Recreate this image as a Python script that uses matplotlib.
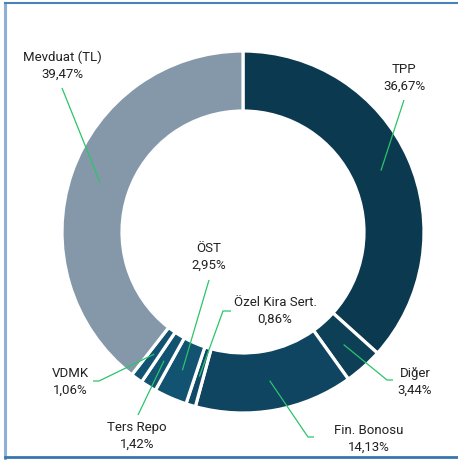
import numpy as np
import matplotlib
matplotlib.use('Agg')
import matplotlib.pyplot as plt
from matplotlib.lines import Line2D

# donut data, clockwise from 12 o'clock
labels = ['TPP', 'Diğer', 'Fin. Bonosu', 'Özel Kira Sert.', 'ÖST', 'Ters Repo', 'VDMK', 'Mevduat (TL)']
values = [36.67, 3.44, 14.13, 0.86, 2.95, 1.42, 1.06, 39.47]
colors = ['#0b3a50', '#0d3f57', '#0f4561', '#104a67', '#115371', '#115371', '#115371', '#8598aa']

# label text centres (pixels, y down) and optional elbow point of leader
label_pos = {
    'TPP': (404, 78, None, (404, 100)),
    'Diğer': (415, 382, (393, 380), (387, 380)),
    'Fin. Bonosu': (369, 439, (314, 437), (308, 437)),
    'Özel Kira Sert.': (275, 311, (231, 311), (223, 311)),
    'ÖST': (209, 257, None, (209, 280)),
    'Ters Repo': (137, 436, None, (138, 415)),
    'VDMK': (70, 382, (93, 381), (99, 381)),
    'Mevduat (TL)': (62, 66, None, (62, 88)),
}

W, H = 458, 462
fig = plt.figure(figsize=(W / 100, H / 100), dpi=100)
ax = fig.add_axes([0, 0, 1, 1])
ax.set_xlim(0, W)
ax.set_ylim(0, H)
ax.set_aspect('equal')
ax.axis('off')

cx, cy, R = 243, H - 232, 181
ring = 60
ax.pie(values, colors=colors, startangle=90, counterclock=False, radius=R, center=(cx, cy),
       wedgeprops=dict(width=ring, edgecolor='white', linewidth=2.3))
ax.set_xlim(0, W)
ax.set_ylim(0, H)

font = ['Roboto', 'DejaVu Sans']
green = '#2bc46a'
cum = np.cumsum([0] + values)
for i, lab in enumerate(labels):
    mid = (cum[i] + cum[i + 1]) / 2 / 100 * 2 * np.pi
    r = R - ring / 2
    px, py = cx + r * np.sin(mid), cy + r * np.cos(mid)
    tx, ty, elbow, end = label_pos[lab]
    xs = []
    ys = []
    if elbow is not None:
        xs.append(elbow[0]); ys.append(H - elbow[1])
    xs += [end[0], px]
    ys += [H - end[1], py]
    ax.plot(xs, ys, color=green, lw=0.9, solid_capstyle='butt')
    txt = lab + '\n' + ('%.2f' % values[i]).replace('.', ',') + '%'
    ax.text(tx, H - ty, txt, ha='center', va='center', fontsize=9.5, family=font,
            color='#222222', linespacing=1.35)

# frame lines around the picture
fig.add_artist(Line2D([5 / W, 5 / W], [1 - 3 / H, 1 - 458 / H], color='#8fb0d4', lw=2.2))
fig.add_artist(Line2D([5 / W, 1], [1 - 3 / H, 1 - 3 / H], color='#4a82b8', lw=1.5))
fig.add_artist(Line2D([5 / W, 1], [1 - 457 / H, 1 - 457 / H], color='#3a76ae', lw=2))

fig.savefig('out.png', dpi=100)
